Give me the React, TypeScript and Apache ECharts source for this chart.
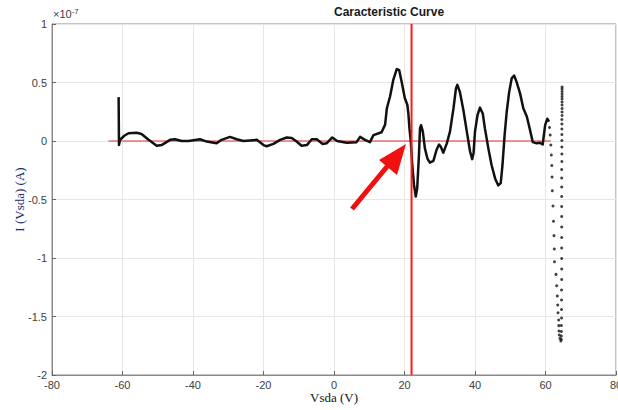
import React, { useEffect, useRef } from "react";
import * as echarts from "echarts";

// values of I in units of 1e-7 A
const xTicks = [-80, -60, -40, -20, 0, 20, 40, 60, 80];
const yTicks = [-2, -1.5, -1, -0.5, 0, 0.5, 1];

const curveX = [
  -61.1, -61.0, -60.7, -59.5, -58.3, -56, -54.6, -52.6, -50.3, -48.9, -46.5, -45.1, -43.2, -41.3, -38, -36.1,
  -33.3, -31.9, -29.5, -27.6, -25.7, -21.9, -20, -19.1, -17.2, -15.3, -13.4, -12, -10.6, -9.2, -7.7, -6.3,
  -4.9, -3.2, -2.1, -0.5, 0.9, 3.6, 6.4, 7.4, 8.8, 10.2, 11.2, 13.5, 14.5, 15, 15.9, 16.8, 17.8, 18.5, 19.2,
  20.1, 20.8, 21.1, 21.4, 21.8, 22.2, 22.7, 23.2, 23.6, 24.1, 24.4, 24.7, 25.2, 25.8, 26.5, 27.2, 28.2, 29.1,
  29.8, 30.3, 31, 32, 32.9, 33.9, 34.6, 35, 35.7, 36.7, 37.6, 38.6, 39.2, 39.6, 40, 40.7, 41.4, 42.2, 42.8,
  43.8, 44.7, 45.7, 46.6, 47.3, 47.8, 48.4, 49, 49.7, 50.4, 51.1, 51.8, 52.8, 53.7, 54.7, 55.6, 56.4, 57.5,
  58.4, 59.2, 59.9, 60.5, 61,
];
const curveI = [
  0.375, -0.035, 0.01, 0.045, 0.066, 0.07, 0.06, 0.01, -0.04, -0.035, 0.01, 0.015, 0, 0, 0.015, -0.005,
  -0.02, 0.01, 0.035, 0.015, 0, 0.01, -0.035, -0.045, -0.025, 0.01, 0.03, 0.025, -0.005, -0.04, -0.035, 0.015,
  0.015, -0.025, -0.02, 0.03, 0, -0.015, -0.01, 0.035, 0.01, -0.01, 0.05, 0.075, 0.14, 0.28, 0.38, 0.52, 0.615, 0.605, 0.505,
  0.365, 0.31, 0.235, 0.11, -0.01, -0.205, -0.375, -0.475, -0.405, -0.12, 0.11, 0.135, 0.08, -0.065, -0.15, -0.185, -0.17, -0.075,
  -0.03, -0.05, -0.1, -0.02, 0.08, 0.28, 0.45, 0.48, 0.42, 0.265, 0.095, -0.09, -0.155, -0.1, 0.08, 0.22, 0.285, 0.235, 0.11,
  -0.065, -0.205, -0.32, -0.38, -0.36, -0.205, 0.05, 0.25, 0.42, 0.535, 0.56, 0.505, 0.405, 0.28, 0.21, 0.095, -0.01, -0.02,
  -0.015, -0.03, 0.135, 0.19, 0.165,
];

// sparse samples on the steep final sweep (down, then back up)
const dotsDownX = [
  61.13, 61.33, 61.5, 61.65, 61.79, 61.87, 61.93, 62.13, 62.27, 62.41, 62.5, 62.55, 62.98, 63.18, 63.35, 63.46,
  63.55, 63.74, 63.77, 63.83, 63.92, 64.11, 64.34,
];
const dotsDownI = [
  0.115, 0.051, -0.034, -0.12, -0.209, -0.308, -0.425, -0.556, -0.686, -0.809, -0.923, -1.032, -1.14, -1.237, -1.325, -1.402,
  -1.468, -1.53, -1.578, -1.624, -1.658, -1.687, -1.709,
];
const dotsUpX = [
  64.5, 64.5, 64.5, 64.5, 64.55, 64.55, 64.55, 64.55, 64.6, 64.6, 64.6, 64.6, 64.6, 64.6, 64.6, 64.6, 64.6, 64.6,
  64.6, 64.6, 64.65, 64.65, 64.65, 64.65, 64.65, 64.65, 64.65, 64.65, 64.7, 64.7, 64.7, 64.7, 64.7, 64.7, 64.7,
  64.7, 64.7, 64.7, 64.7,
];
const dotsUpI = [
  -1.697, -1.667, -1.628, -1.577, -1.513, -1.44, -1.359, -1.274, -1.184, -1.094, -1.004, -0.915, -0.825, -0.735, -0.645, -0.56,
  -0.474, -0.393, -0.316, -0.244, -0.175, -0.111, -0.051, 0.004, 0.056, 0.103, 0.145, 0.184, 0.218, 0.248, 0.278, 0.308,
  0.333, 0.359, 0.38, 0.402, 0.423, 0.444, 0.462,
];

const zeroLineX = [-64, 61.5];
const zeroLineI = [0, 0];
const markerV = 22;

export default function App() {
  const ref = useRef<HTMLDivElement>(null);
  useEffect(() => {
    const chart = echarts.init(ref.current!, undefined, { renderer: "svg" });
    const zip = (xs: number[], ys: number[]) => xs.map((x, i) => [x, ys[i]]);
    const dots = [...zip(dotsDownX, dotsDownI), ...zip(dotsUpX, dotsUpI)];
    const axisTextColor = "#404040";
    chart.setOption({
      animation: false,
      backgroundColor: "#ffffff",
      grid: {
        left: 52,
        right: 2,
        top: 24,
        bottom: 35,
        containLabel: false,
        outerBoundsMode: "none",
        show: true,
        borderColor: "#8a8a8a",
        borderWidth: 1,
      },
      xAxis: {
        type: "value",
        min: xTicks[0],
        max: xTicks[xTicks.length - 1],
        interval: 20,
        name: "Vsda (V)",
        nameLocation: "middle",
        nameGap: 16,
        nameMoveOverlap: false,
        nameTextStyle: { fontFamily: "Liberation Serif", fontSize: 13, color: "#111" },
        axisLine: { show: true, onZero: false, lineStyle: { color: "#8a8a8a" } },
        axisTick: { show: true, inside: true, length: 4, lineStyle: { color: "#666" } },
        axisLabel: { fontFamily: "Liberation Sans", fontSize: 11, color: axisTextColor, margin: 4 },
        splitLine: { show: true, lineStyle: { color: "#e6e6e6" } },
      },
      yAxis: {
        type: "value",
        min: yTicks[0],
        max: yTicks[yTicks.length - 1],
        interval: 0.5,
        name: "I (Vsda) (A)",
        nameLocation: "middle",
        nameGap: 26,
        nameMoveOverlap: false,
        nameTextStyle: { fontFamily: "Liberation Serif", fontSize: 13, color: "#2a2a66" },
        axisLine: { show: true, onZero: false, lineStyle: { color: "#8a8a8a" } },
        axisTick: { show: true, inside: true, length: 4, lineStyle: { color: "#666" } },
        axisLabel: { fontFamily: "Liberation Sans", fontSize: 11, color: axisTextColor, margin: 5 },
        splitLine: { show: true, lineStyle: { color: "#e6e6e6" } },
      },
      graphic: [
        {
          type: "text",
          left: 334,
          top: 6,
          style: {
            text: "Caracteristic Curve",
            fontFamily: "Liberation Sans",
            fontWeight: "bold",
            fontSize: 12,
            fill: "#1a1a1a",
            textAlign: "center",
          },
        },
        {
          type: "text",
          left: 53,
          top: 7,
          style: {
            text: "×10{s|-7}",
            fontFamily: "Liberation Sans",
            fontSize: 11,
            fill: axisTextColor,
            rich: { s: { fontSize: 8, verticalAlign: "top", fill: axisTextColor, padding: [0, 0, 6, 0] } },
          },
        },
        {
          type: "line",
          shape: { x1: 352, y1: 209, x2: 390, y2: 163 },
          style: { stroke: "#f01010", lineWidth: 5 },
          z: 100,
        },
        {
          type: "polygon",
          shape: { points: [[406, 144], [379, 160], [397, 175]] },
          style: { fill: "#f01010" },
          z: 100,
        },
      ],
      series: [
        {
          type: "line",
          data: zip(zeroLineX, zeroLineI),
          showSymbol: false,
          lineStyle: { color: "#e03030", width: 1 },
          z: 1,
        },
        {
          type: "line",
          data: zip(curveX, curveI),
          showSymbol: false,
          lineStyle: { color: "#111", width: 2.5, join: "round" },
          z: 2,
        },
        {
          type: "scatter",
          data: dots,
          symbolSize: 3,
          itemStyle: { color: "#111" },
          z: 2,
        },
        {
          type: "line",
          data: [
            [markerV, yTicks[0]],
            [markerV, yTicks[yTicks.length - 1]],
          ],
          showSymbol: false,
          lineStyle: { color: "#ff1a1a", width: 2 },
          z: 3,
        },
      ],
    });
    return () => chart.dispose();
  }, []);
  return (
    <div
      ref={ref}
      style={{ position: "fixed", left: 0, top: 0, width: 618, height: 410, background: "#fff" }}
    />
  );
}
